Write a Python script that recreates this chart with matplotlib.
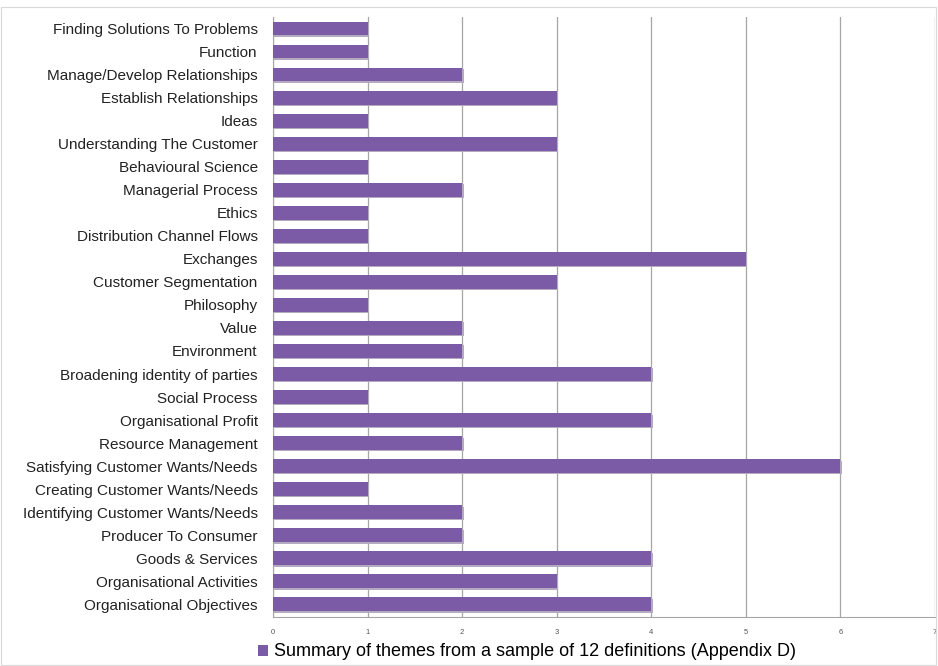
import numpy as np
import matplotlib.pyplot as plt
from matplotlib.patches import Rectangle

# themes, top to bottom as in the chart
themes = ['Finding Solutions To Problems', 'Function', 'Manage/Develop Relationships',
          'Establish Relationships', 'Ideas', 'Understanding The Customer',
          'Behavioural Science', 'Managerial Process', 'Ethics',
          'Distribution Channel Flows', 'Exchanges', 'Customer Segmentation',
          'Philosophy', 'Value', 'Environment', 'Broadening identity of parties',
          'Social Process', 'Organisational Profit', 'Resource Management',
          'Satisfying Customer Wants/Needs', 'Creating Customer Wants/Needs',
          'Identifying Customer Wants/Needs', 'Producer To Consumer',
          'Goods & Services', 'Organisational Activities', 'Organisational Objectives']
counts = [1, 1, 2, 3, 1, 3, 1, 2, 1, 1, 5, 3, 1, 2, 2, 4, 1, 4, 2, 6, 1, 2, 2, 4, 3, 4]
xticks = [0, 1, 2, 3, 4, 5, 6, 7]
series_name = 'Summary of themes from a sample of 12 definitions (Appendix D)'

plt.rcParams['font.family'] = ['Liberation Sans', 'DejaVu Sans']

fig = plt.figure(figsize=(9.38, 6.66), dpi=100)
ax = fig.add_axes([273 / 938, 1 - 617 / 666, (935 - 273) / 938, (617 - 17) / 666])

y = np.arange(len(themes))[::-1]
# soft shadow under each bar
ax.barh(y - 0.06, counts, height=0.6, left=0.015, color='#b3aabf', zorder=2)
ax.barh(y, counts, height=0.6, color='#7b5ba6', zorder=3, label=series_name)

ax.set_xlim(0, 7)
ax.set_ylim(-0.55, len(themes) - 0.5)
ax.set_xticks(xticks)
ax.set_xticklabels([str(t) for t in xticks], fontsize=5.5, color='#555555')
ax.set_yticks(y)
ax.set_yticklabels(themes, fontsize=11, color='#222222')
ax.tick_params(axis='x', length=0, pad=9)
ax.tick_params(axis='y', length=0, pad=11)
ax.grid(axis='x', color='#a6a6a6', linewidth=0.9, zorder=1)
for s in ['top', 'right']:
    ax.spines[s].set_visible(False)
ax.spines['left'].set_color('#a6a6a6')
ax.spines['bottom'].set_color('#a6a6a6')

ax.legend(loc='center', bbox_to_anchor=(527 / 938, 1 - 652 / 666), bbox_transform=fig.transFigure,
          frameon=False, fontsize=13, handlelength=0.55, handleheight=0.55, handletextpad=0.3)

fig.patches.append(Rectangle((0.001, 0.001), 0.997, 0.988, transform=fig.transFigure,
                             fill=False, edgecolor='#d9d9d9', linewidth=0.8))

fig.savefig('out.png', dpi=100)
